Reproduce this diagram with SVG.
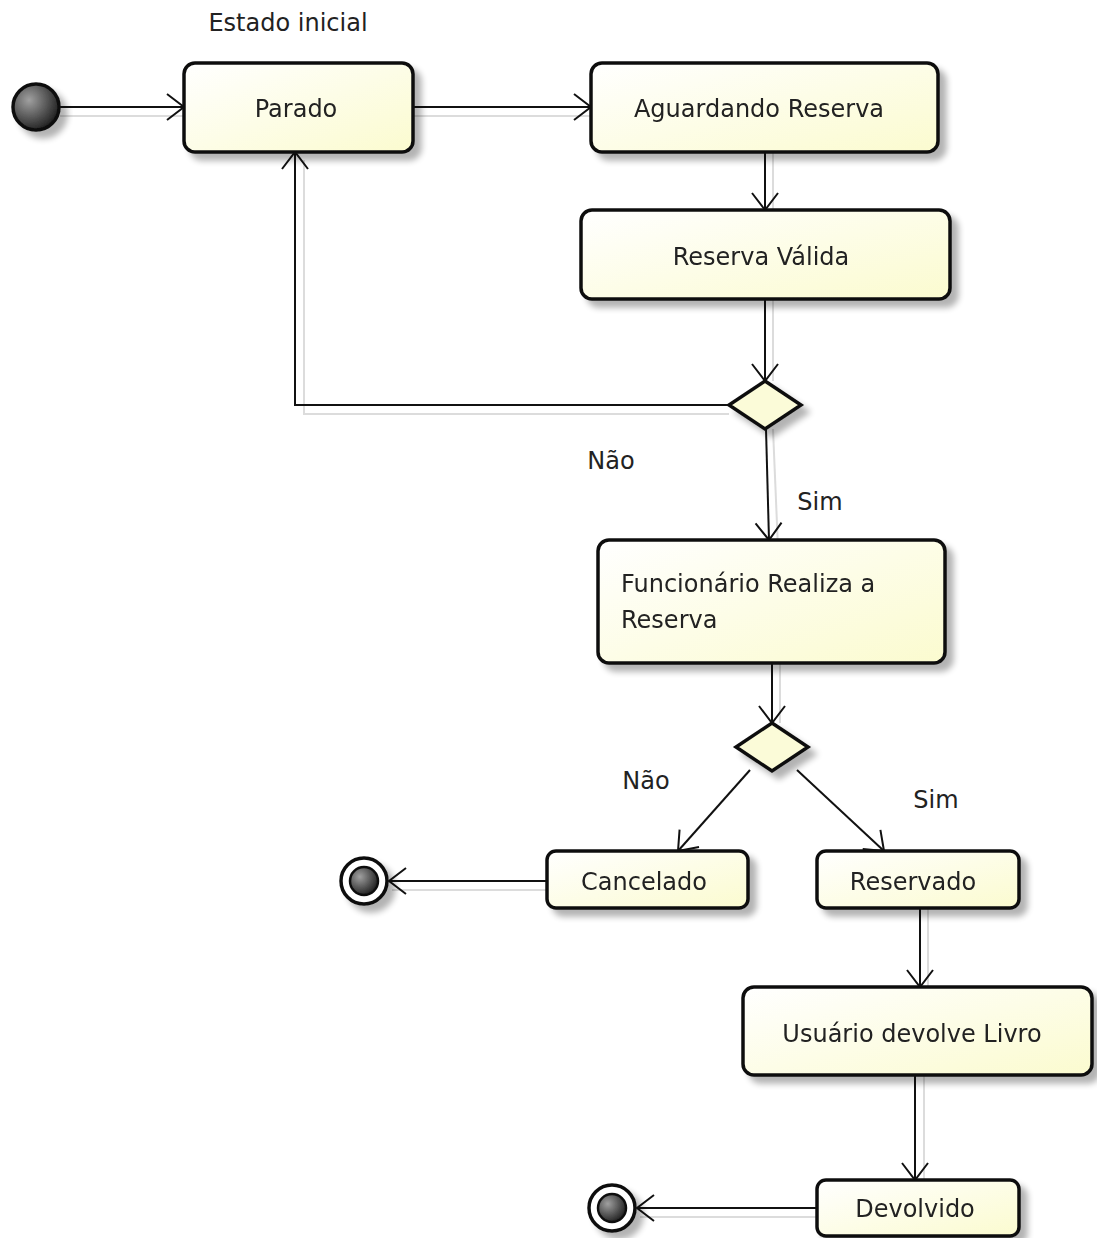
<svg xmlns="http://www.w3.org/2000/svg" width="1097" height="1238" viewBox="0 0 1097 1238">
<defs>
<linearGradient id="nodeFill" x1="0" y1="0" x2="1" y2="1">
<stop offset="0" stop-color="#ffffff"/>
<stop offset="1" stop-color="#fbfbcf"/>
</linearGradient>
<radialGradient id="ballFill" cx="0.35" cy="0.35" r="0.7">
<stop offset="0" stop-color="#a0a0a0"/>
<stop offset="1" stop-color="#1e1e1e"/>
</radialGradient>
<filter id="shadow" x="-20%" y="-20%" width="150%" height="160%">
<feGaussianBlur in="SourceAlpha" stdDeviation="3"/>
<feOffset dx="7" dy="7" result="b"/>
<feComponentTransfer><feFuncA type="linear" slope="0.3"/></feComponentTransfer>
<feMerge><feMergeNode/><feMergeNode in="SourceGraphic"/></feMerge>
</filter>
<marker id="open" markerWidth="22" markerHeight="30" refX="19" refY="15" orient="auto" markerUnits="userSpaceOnUse">
<path d="M2,2 L19,15 L2,28" fill="none" stroke="#111" stroke-width="2"/>
</marker>
</defs>
<style>
.node rect { fill: url(#nodeFill); stroke: #111; stroke-width: 3.5; }
.lbl { font-family: "DejaVu Sans", Verdana, sans-serif; font-size: 24px; fill: #222; }
.mid { text-anchor: middle; }
.edge { fill: none; stroke: #111; stroke-width: 2; marker-end: url(#open); }
.eshadow { fill: none; stroke: #dcdcdc; stroke-width: 2; }
.dia { fill: #fbfbd8; stroke: #111; stroke-width: 3.5; }
</style>
<rect width="1097" height="1238" fill="#fff"/>

<text class="lbl mid" x="288" y="31">Estado inicial</text>

<g id="connector-shadows">
<path class="eshadow" d="M60,116 H190"/>
<path class="eshadow" d="M413,116 H597"/>
<path class="eshadow" d="M773,152 V210"/>
<path class="eshadow" d="M773,299 V381"/>
<path class="eshadow" d="M729,414 H304 V160"/>
<path class="eshadow" d="M773,429 L778,548"/>
<path class="eshadow" d="M780,663 V723"/>
<path class="eshadow" d="M547,890 H392"/>
<path class="eshadow" d="M928,908 V995"/>
<path class="eshadow" d="M924,1075 V1188"/>
<path class="eshadow" d="M817,1217 H640"/>
</g>

<g id="connectors">
<path class="edge" d="M60,107 H184"/>
<path class="edge" d="M413,107 H591"/>
<path class="edge" d="M765,152 V210"/>
<path class="edge" d="M765,299 V381"/>
<path class="edge" d="M729,405 H295 V152"/>
<path class="edge" d="M766,429 L769,540"/>
<path class="edge" d="M772,663 V723"/>
<path class="edge" d="M750,770 L678,851"/>
<path class="edge" d="M797,770 L884,851"/>
<path class="edge" d="M920,908 V987"/>
<path class="edge" d="M915,1075 V1180"/>
<path class="edge" d="M547,881 H389"/>
<path class="edge" d="M817,1208 H637"/>
</g>

<text class="lbl mid" x="611" y="469">Não</text>
<text class="lbl mid" x="820" y="510">Sim</text>
<text class="lbl mid" x="646" y="789">Não</text>
<text class="lbl mid" x="936" y="808">Sim</text>

<g id="initial" filter="url(#shadow)">
<circle cx="36" cy="107" r="23" fill="url(#ballFill)" stroke="#111" stroke-width="3.5"/>
</g>

<g id="parado" class="node" filter="url(#shadow)">
<rect x="184" y="63" width="229" height="89" rx="11"/>
<text class="lbl mid" x="296" y="117">Parado</text>
</g>

<g id="aguardando" class="node" filter="url(#shadow)">
<rect x="591" y="63" width="347" height="89" rx="11"/>
<text class="lbl mid" x="759" y="117">Aguardando Reserva</text>
</g>

<g id="reserva-valida" class="node" filter="url(#shadow)">
<rect x="581" y="210" width="369" height="89" rx="11"/>
<text class="lbl mid" x="761" y="265">Reserva Válida</text>
</g>

<g id="decisao1" filter="url(#shadow)">
<polygon class="dia" points="765,381 801,405 765,429 729,405"/>
</g>

<g id="funcionario" class="node" filter="url(#shadow)">
<rect x="598" y="540" width="347" height="123" rx="11"/>
<text class="lbl" x="621" y="592">Funcionário Realiza a</text>
<text class="lbl" x="621" y="628">Reserva</text>
</g>

<g id="decisao2" filter="url(#shadow)">
<polygon class="dia" points="772,723 808,747 772,771 736,747"/>
</g>

<g id="cancelado" class="node" filter="url(#shadow)">
<rect x="547" y="851" width="201" height="57" rx="9"/>
<text class="lbl mid" x="644" y="890">Cancelado</text>
</g>

<g id="final1" filter="url(#shadow)">
<circle cx="364" cy="881" r="23" fill="#fff" stroke="#111" stroke-width="3.5"/>
<circle cx="364" cy="881" r="14" fill="url(#ballFill)" stroke="#111" stroke-width="2.5"/>
</g>

<g id="reservado" class="node" filter="url(#shadow)">
<rect x="817" y="851" width="202" height="57" rx="9"/>
<text class="lbl mid" x="913" y="890">Reservado</text>
</g>

<g id="usuario" class="node" filter="url(#shadow)">
<rect x="743" y="987" width="349" height="88" rx="11"/>
<text class="lbl mid" x="912" y="1042">Usuário devolve Livro</text>
</g>

<g id="devolvido" class="node" filter="url(#shadow)">
<rect x="817" y="1180" width="202" height="56" rx="9"/>
<text class="lbl mid" x="915" y="1217">Devolvido</text>
</g>

<g id="final2" filter="url(#shadow)">
<circle cx="612" cy="1208" r="23" fill="#fff" stroke="#111" stroke-width="3.5"/>
<circle cx="612" cy="1208" r="14" fill="url(#ballFill)" stroke="#111" stroke-width="2.5"/>
</g>
</svg>
